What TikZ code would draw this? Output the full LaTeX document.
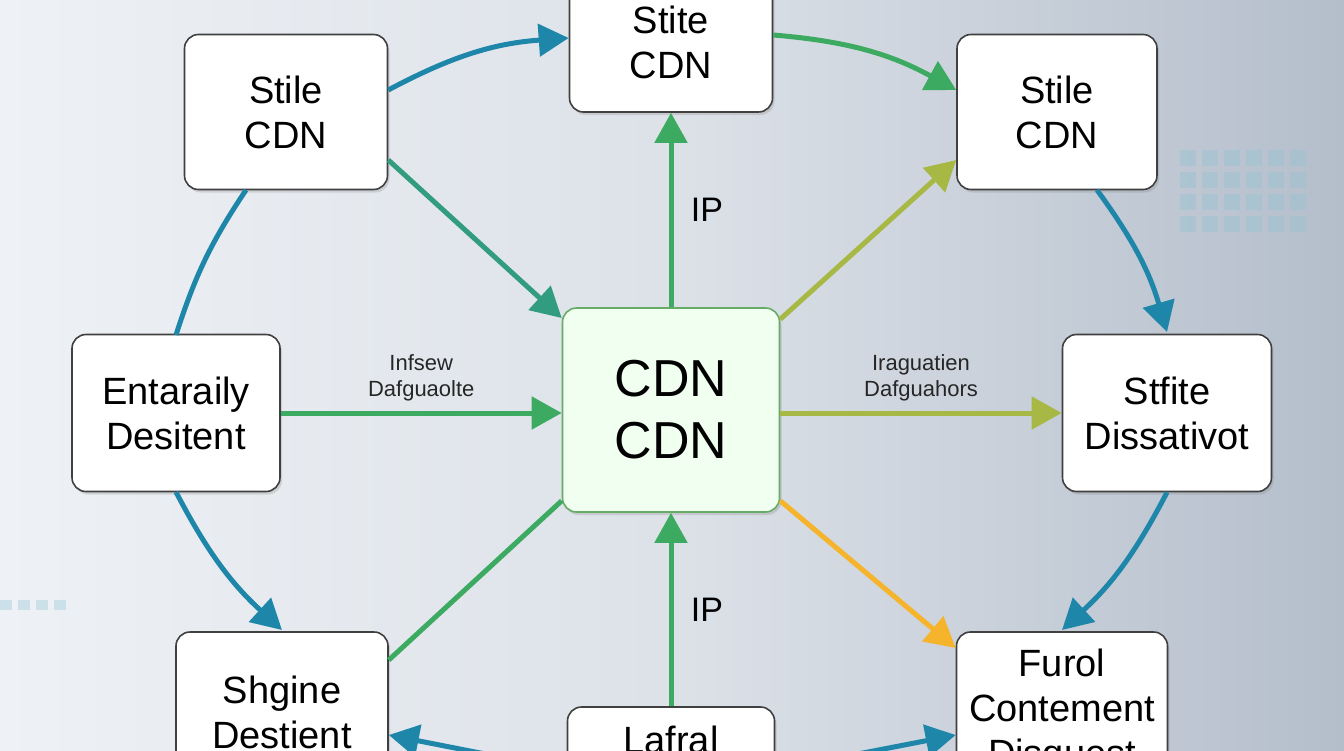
\documentclass[tikz,border=0pt]{standalone}
\usepackage{fontspec}
\setmainfont{Liberation Sans}
\usetikzlibrary{arrows.meta,shadows}
\definecolor{teal1}{HTML}{1E86A8}
\definecolor{grn}{HTML}{3DAA62}
\definecolor{ylw}{HTML}{F6B42C}
\definecolor{olv}{HTML}{A7B845}
\definecolor{bgA}{HTML}{EEF1F5}
\definecolor{bgB}{HTML}{B4BECB}
\begin{document}
\begin{tikzpicture}[x=1pt,y=-1pt,
  box/.style={draw=black!75,line width=1.6pt,rounded corners=14pt,fill=white,
    drop shadow={shadow xshift=2pt,shadow yshift=-3pt,opacity=0.25},
    font=\fontsize{38}{45}\selectfont,align=center,inner sep=0pt},
  lab/.style={font=\fontsize{22}{26}\selectfont,align=center,text=black!85},
  arr/.style={line width=5pt,-{Triangle[length=30pt,width=32pt]}},
  ln/.style={line width=5pt}]
\useasboundingbox (0,0) rectangle (1344,750);
\shade[left color=bgA,right color=bgB,middle color=bgA!70!bgB] (0,0) rectangle (1344,750);
\begin{scope}[teal1!50,opacity=0.35]
\foreach \i in {0,...,5}{\foreach \j in {0,...,3}{\fill (1180+\i*22,150+\j*22) rectangle ++(16,16);}}
\foreach \i in {0,...,3}{\fill (0+\i*18,600) rectangle ++(12,10);}
\end{scope}
% nodes
\node[box,minimum width=203pt,minimum height=155pt] (tl) at (286,112) {Stile\\CDN};
\node[box,minimum width=203pt,minimum height=140pt] (top) at (671,42) {Stite\\CDN};
\node[box,minimum width=200pt,minimum height=155pt] (tr) at (1057,112) {Stile\\CDN};
\node[box,minimum width=208pt,minimum height=157pt] (l) at (176,413) {Entaraily\\Desitent};
\node[box,fill=green!6,draw=green!45!black!60,minimum width=217pt,minimum height=204pt,font=\fontsize{52}{62}\selectfont] (c) at (671,410) {CDN\\CDN};
\node[box,minimum width=209pt,minimum height=157pt] (r) at (1167,413) {Stfite\\Dissativot};
\node[box,minimum width=212pt,minimum height=160pt] (bl) at (282,712) {Shgine\\Destient};
\node[box,minimum width=207pt,minimum height=110pt] (b) at (671,762) {Lafral\\ };
\node[box,minimum width=211pt,minimum height=160pt] (br) at (1062,712) {Furol\\Contement\\Disquest};
% connectors
\draw[arr,teal1] (tl.east|-0,90) to[bend left=12] (top.west|-0,38);
\draw[arr,grn] (top.east|-0,35) to[bend left=12] (tr.west|-0,90);
\draw[arr,grn!60!teal1] (tl.east|-0,160) -- (c.north west|-0,318);
\draw[arr,grn] (c.north) -- node[lab,right=14pt,font=\fontsize{34}{40}\selectfont,text=black] {IP} (top.south);
\draw[arr,olv] (c.north east) ++(0,12) coordinate (c1) (c1) -- (tr.south west|-0,160);
\draw[arr,teal1] (tr.south|-0,190) ++(40,0) coordinate (t1) (t1) to[bend left=10] (r.north|-0,332);
\draw[arr,grn] (l.east) -- node[lab,above=6pt] {Infsew\\Dafguaolte} (c.west|-l.east);
\draw[arr,olv] (c.east|-r.west) -- node[lab,above=6pt] {Iraguatien\\Dafguahors} (r.west);
\draw[ln,teal1] (tl.south|-0,190) ++(-40,0) coordinate (t2) (t2) to[bend right=8] (l.north|-0,335);
\draw[arr,teal1] (l.south|-0,492) to[bend right=10] (bl.north|-0,630) coordinate (t3);
\draw[ln,grn] (c.south west) ++(0,-12) coordinate (c2) (c2) -- (bl.east|-0,660);
\draw[arr,grn] (b.north) -- node[lab,right=14pt,font=\fontsize{34}{40}\selectfont,text=black] {IP} (c.south);
\draw[arr,ylw] (c.south east) ++(0,-12) coordinate (c3) (c3) -- (br.west|-0,648);
\draw[arr,teal1] (r.south) to[bend left=10] (br.north|-0,630);
\draw[arr,teal1] (b.west|-0,770) -- (bl.east|-0,735);
\draw[arr,teal1] (b.east|-0,770) -- (br.west|-0,735);
\end{tikzpicture}
\end{document}
